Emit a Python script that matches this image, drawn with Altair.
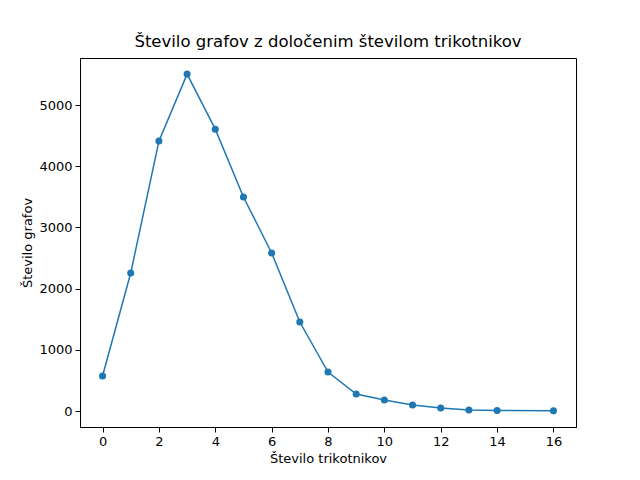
import altair as alt
import pandas as pd

x_vals = [0, 1, 2, 3, 4, 5, 6, 7, 8, 9, 10, 11, 12, 13, 14, 16]
y_vals = [572, 2255, 4410, 5505, 4605, 3497, 2582, 1454, 637, 278, 180, 98, 49, 16, 8, 3]

df = pd.DataFrame({"x": x_vals, "y": y_vals})
color = "#1f77b4"

base = alt.Chart(df).encode(
    x=alt.X("x:Q", title="Število trikotnikov",
            scale=alt.Scale(domain=[-0.8, 16.8], nice=False, zero=False),
            axis=alt.Axis(values=list(range(0, 17, 2)), grid=False, format="d")),
    y=alt.Y("y:Q", title="Število grafov",
            scale=alt.Scale(domain=[-261, 5768], nice=False, zero=False),
            axis=alt.Axis(values=[0, 1000, 2000, 3000, 4000, 5000], grid=False, format="d")),
)

chart = (base.mark_line(color=color, strokeWidth=1.5)
         + base.mark_point(color=color, filled=True, size=50, opacity=1)).properties(
    width=496, height=369,
    title=alt.Title("Število grafov z določenim številom trikotnikov", fontSize=16.5,
                    fontWeight="normal", font="DejaVu Sans", offset=8),
    autosize=alt.AutoSizeParams(type="none"),
    padding={"left": 72, "top": 50, "right": 56, "bottom": 45},
).configure(background="white").configure_view(stroke="black", strokeWidth=1).configure_axis(
    domainColor="black", tickColor="black", labelColor="black", titleColor="black",
    labelFont="DejaVu Sans", titleFont="DejaVu Sans", labelFontSize=13, titleFontSize=13,
    titleFontWeight="normal", tickSize=5, labelPadding=3,
)

chart.save("out.html", embed_options={"renderer": "svg", "actions": False})
